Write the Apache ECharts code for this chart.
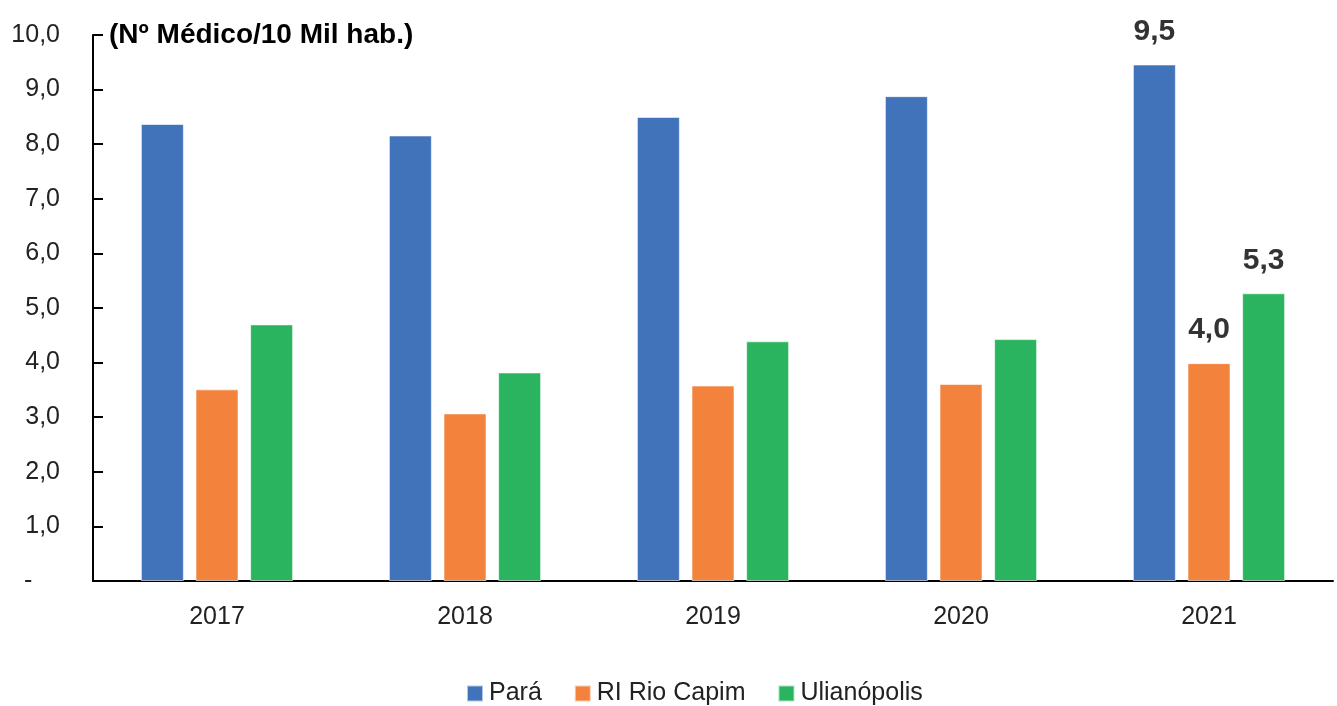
<!DOCTYPE html>
<html>
<head>
<meta charset="utf-8">
<script src="https://cdn.jsdelivr.net/npm/echarts@6/dist/echarts.min.js"></script>
<style>
  html, body { margin: 0; padding: 0; background: #fff; }
  #chart { width: 1337px; height: 706px; }
</style>
</head>
<body>
<div id="chart"></div>
<script>
const categories = ['2017', '2018', '2019', '2020', '2021'];
const para = [8.37, 8.16, 8.50, 8.88, 9.46];
const riRioCapim = [3.51, 3.07, 3.58, 3.61, 3.99];
const ulianopolis = [4.70, 3.82, 4.39, 4.43, 5.27];
const seriesNames = ['Pará', 'RI Rio Capim', 'Ulianópolis'];
const yTicks = { min: 0, max: 10, interval: 1 };
const titleText = '(Nº Médico/10 Mil hab.)';

const FONT = '"Liberation Sans", Arial, sans-serif';
const fmt = v => v.toFixed(1).replace('.', ',');

const lastLabel = {
  show: true, position: 'top', distance: 18,
  fontFamily: FONT, fontSize: 30, fontWeight: 'bold', color: '#333',
  formatter: p => fmt(p.value)
};

function mkSeries(name, data, color) {
  return {
    name, type: 'bar', data: data.map((v, i) => i === data.length - 1 ? { value: v, label: lastLabel } : v),
    barWidth: 43, barGap: '27%',
    itemStyle: { color, borderColor: 'rgba(255,255,255,0.6)', borderWidth: 1 },
    emphasis: { disabled: true }
  };
}

const chart = echarts.init(document.getElementById('chart'));
chart.setOption({
  animation: false,
  backgroundColor: '#fff',
  title: {
    text: titleText, left: 104, top: 16,
    textStyle: { fontFamily: FONT, fontSize: 28, fontWeight: 'bold', color: '#000' }
  },
  legend: {
    top: 676, left: 461,
    itemWidth: 16, itemHeight: 16, itemGap: 32,
    icon: 'rect',
    textStyle: { fontFamily: FONT, fontSize: 25, color: '#222', padding: [0, 0, 0, 1] },
    data: seriesNames
  },
  grid: { left: 93, right: 4, top: 35, bottom: 125, containLabel: false },
  xAxis: {
    type: 'category', data: categories,
    axisLine: { lineStyle: { color: '#000', width: 2 } },
    axisTick: { inside: true, length: 8, lineStyle: { color: '#000', width: 2 } },
    axisLabel: { fontFamily: FONT, fontSize: 25, color: '#222', margin: 24 }
  },
  yAxis: {
    type: 'value', min: yTicks.min, max: yTicks.max, interval: yTicks.interval,
    splitLine: { show: false },
    axisLine: { show: true, lineStyle: { color: '#000', width: 2 } },
    axisTick: { show: true, inside: true, length: 10, lineStyle: { color: '#000', width: 2 } },
    axisLabel: {
      fontFamily: FONT, fontSize: 25, color: '#222', margin: 33,
      formatter: v => v === 0 ? '-    ' : fmt(v)
    }
  },
  series: [
    mkSeries(seriesNames[0], para, '#4073ba'),
    mkSeries(seriesNames[1], riRioCapim, '#f2823c'),
    mkSeries(seriesNames[2], ulianopolis, '#2bb45f')
  ]
});
</script>
</body>
</html>
